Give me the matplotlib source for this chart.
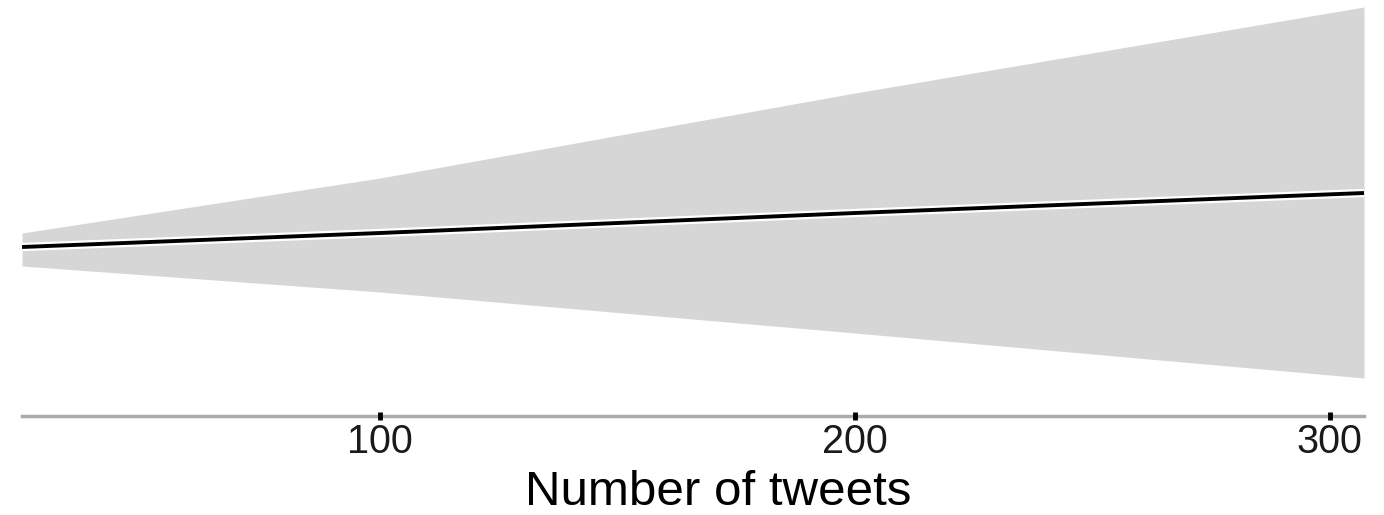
import matplotlib
matplotlib.use("Agg")
import matplotlib.pyplot as plt

# values (y in arbitrary units, no y axis shown)
tweets = [24.6, 100, 200, 307.2]
fit = [1.69, 1.83, 2.03, 2.23]
lower = [1.50, 1.24, 0.83, 0.38]
upper = [1.83, 2.38, 3.23, 4.09]

xticks = [100, 200, 300]

plt.rcParams['font.family'] = ['Liberation Sans', 'DejaVu Sans']

fig = plt.figure(figsize=(13.84, 5.15), dpi=100)
ax = fig.add_axes([22 / 1384, 99 / 515, 1342 / 1384, 416 / 515])

ax.fill_between(tweets, lower, upper, color="#d6d6d6", linewidth=0)
ax.plot(tweets, fit, color="white", linewidth=6, solid_capstyle="butt")
ax.plot(tweets, fit, color="black", linewidth=2.8, solid_capstyle="butt")

ax.set_xlim(tweets[0], tweets[-1])
ax.set_ylim(0, 4.16)
ax.set_xticks(xticks)
ax.set_xticklabels([str(t) for t in xticks], fontsize=28.5, color="#1a1a1a")
ax.set_yticks([])
ax.tick_params(axis="x", bottom=True, length=6, width=3.5, color="black",
               pad=2, direction="inout")

for s in ["top", "right", "left"]:
    ax.spines[s].set_visible(False)
ax.spines["bottom"].set_color("#ababab")
ax.spines["bottom"].set_linewidth(2.5)
ax.spines["bottom"].set_zorder(0.5)

ax.set_xlabel("Number of tweets", fontsize=35.5, color="black", labelpad=0)
ax.xaxis.set_label_coords(0.519, -0.13)
ax.xaxis.label.set_va("top")

fig.savefig("out.png", dpi=100)
